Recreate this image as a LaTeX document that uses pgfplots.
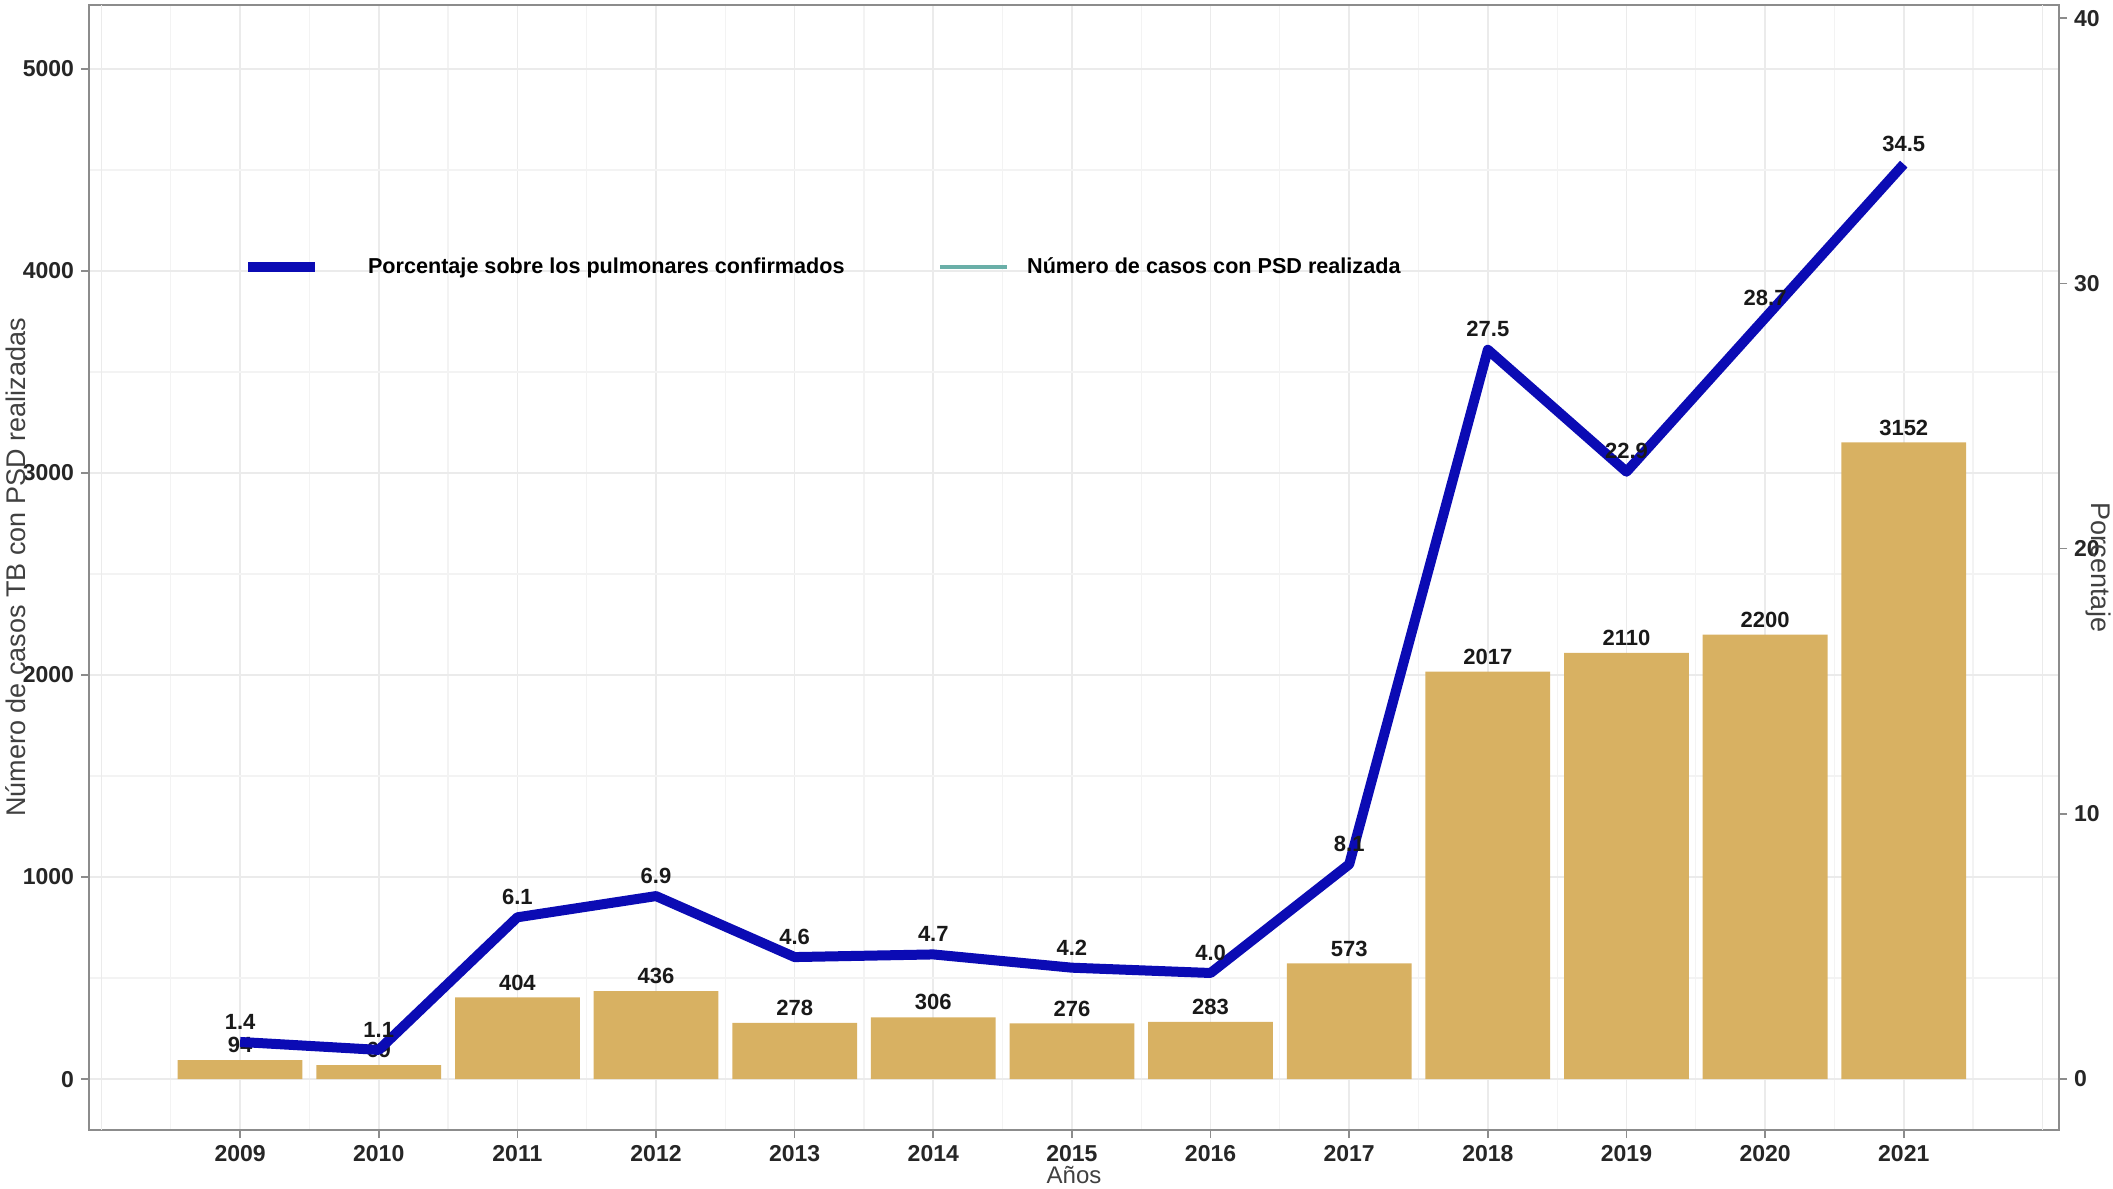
\documentclass[border=0pt]{standalone}
\usepackage{fontspec}
\setmainfont{Liberation Sans}
\usepackage{pgfplots}
\usepackage{pgfplotstable}
\pgfplotsset{compat=1.18}

\definecolor{barcol}{HTML}{D8B162}
\definecolor{linecol}{HTML}{0B0BB4}
\definecolor{legteal}{HTML}{6AAFA8}
\definecolor{gridcol}{HTML}{EBEBEB}

% anio (0 = 2009), porcentaje, casos con PSD
\pgfplotstableread{
x pct casos
0 1.4 94
1 1.1 69
2 6.1 404
3 6.9 436
4 4.6 278
5 4.7 306
6 4.2 276
7 4.0 283
8 8.1 573
9 27.5 2017
10 22.9 2110
11 28.7 2200
12 34.5 3152
}\datos

\pgfplotsset{
  base/.style={
    scale only axis, width=985pt, height=562.5pt,
    at={(44.5pt,29pt)}, anchor=south west,
    xmin=-1.09, xmax=13.12,
    tick align=outside,
    /pgf/number format/assume math mode=true,
    /pgf/number format/1000 sep={},
    ticklabel style={font=\fontsize{11.5}{13}\selectfont\bfseries, text=black!85},
    axis line style={black!45, line width=0.8pt},
    major tick style={black!45, line width=0.8pt},
    major tick length=4pt, minor tick length=0pt,
    every node near coord/.append style={font=\fontsize{11}{13}\selectfont\bfseries, text=black!90},
  }
}

\begin{document}
\begin{tikzpicture}
\useasboundingbox (0,0) rectangle (1056.5pt,594pt);

% barras: casos (eje izquierdo)
\begin{axis}[base,
  ymin=-252, ymax=5317,
  ytick={0,1000,...,5000}, minor ytick={500,1500,...,4500},
  xtick={0,...,12},
  xticklabels={2009,2010,2011,2012,2013,2014,2015,2016,2017,2018,2019,2020,2021},
  extra x ticks={-1,13}, extra x tick labels={},
  extra x tick style={major tick length=0pt},
  minor xtick={-0.5,0.5,...,12.5},
  xmajorgrids, xminorgrids, ymajorgrids, yminorgrids,
  major grid style={gridcol, line width=0.8pt},
  minor grid style={gridcol!60, line width=0.6pt},
  ytick pos=left, xtick pos=bottom,
  xlabel={Años},
  ylabel={Número de casos TB con PSD realizadas},
  every axis x label/.style={at={(axis description cs:0.5,0)}, anchor=center, yshift=-22.5pt,
    font=\fontsize{12}{14}\selectfont, text=black!75},
  every axis y label/.style={at={(axis description cs:0,0.5)}, xshift=-36.5pt, rotate=90, anchor=center,
    font=\fontsize{13.5}{15}\selectfont, text=black!75},
  nodes near coords,
]
\addplot[ybar, bar width=0.9, fill=barcol, draw=none] table[x=x, y=casos] {\datos};
\end{axis}

% linea: porcentaje (eje derecho)
\begin{axis}[base,
  ymin=-1.92, ymax=40.5,
  ytick={0,10,...,40},
  axis x line=none, axis y line*=right,
  ylabel={Porcentaje},
  every axis y label/.style={at={(axis description cs:1,0.5)}, xshift=19.5pt, rotate=-90, anchor=center,
    font=\fontsize{13.5}{15}\selectfont, text=black!75},
  nodes near coords={\pgfmathprintnumber[fixed,fixed zerofill,precision=1]{\pgfplotspointmeta}},
  every node near coord/.append style={yshift=0.5pt},
  legend style={draw=none, fill=none, inner sep=0pt, at={(0.078,0.767)}, anchor=west,
    font=\fontsize{10.8}{13}\selectfont\bfseries,
    /tikz/column 1/.style={column sep=22pt},
    /tikz/column 2/.style={column sep=45pt},
    /tikz/column 3/.style={column sep=7pt}},
  legend columns=2,
  legend image code/.code={\draw[#1] (0pt,0pt) -- (33.5pt,0pt);},
]
\addplot[linecol, line width=5pt, line join=round] table[x=x, y=pct] {\datos};
\addlegendentry{Porcentaje sobre los pulmonares confirmados}
\addlegendimage{legteal, line width=1.8pt}
\addlegendentry{Número de casos con PSD realizada}
\end{axis}
\end{tikzpicture}
\end{document}
